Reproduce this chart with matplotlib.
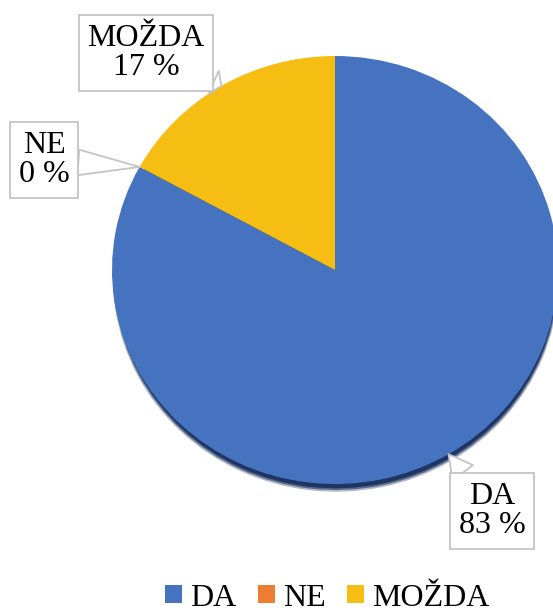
import matplotlib
matplotlib.use("Agg")
import numpy as np
import matplotlib.pyplot as plt

# data
CATEGORIES = ["DA", "NE", "MOŽDA"]
PERCENTS = [83, 0, 17]
COLORS = ["#4673C0", "#ED7D31", "#F6BD12"]

# callout box centres, figure pixels measured from the top
LABEL_POS = {"DA": (492, 511), "NE": (44, 160), "MOŽDA": (146, 53)}

W, H = 553, 613
CX, CY = 335, 270      # pie centre (px from top-left)
RX, RY = 223, 214      # pie radii (px)
FONT = "Liberation Serif"
FS = 23

plt.rcParams["font.family"] = [FONT, "DejaVu Serif"]

fig = plt.figure(figsize=(W / 100, H / 100), dpi=100)
ax = fig.add_axes([0, 0, 1, 1])

# soft dark shadow under the pie (a few layers to blur the edge)
for k, a in enumerate([0.35, 0.6, 1.0]):
    ax.pie(PERCENTS, colors=["#1E3461"] * len(PERCENTS), startangle=90,
           counterclock=False, center=(0.004, -0.036 + 0.004 * k),
           radius=1.0 - 0.004 * k, wedgeprops=dict(linewidth=0, alpha=a))
wedges, _ = ax.pie(PERCENTS, colors=COLORS, startangle=90, counterclock=False,
                   center=(0, 0), radius=1, wedgeprops=dict(linewidth=0))

ax.set_aspect("auto")
ax.set_xlim(-CX / RX, (W - CX) / RX)
ax.set_ylim((CY - H) / RY, CY / RY)
ax.axis("off")

for w, cat, pct in zip(wedges, CATEGORIES, PERCENTS):
    mid = np.radians((w.theta1 + w.theta2) / 2)
    tip = (np.cos(mid), np.sin(mid))
    px, py = LABEL_POS[cat]
    ax.annotate(f"{cat}\n{pct} %", xy=tip, xycoords="data",
                xytext=(px, H - py), textcoords="figure pixels",
                ha="center", va="center", fontsize=FS, family=FONT,
                linespacing=1.02, color="black",
                bbox=dict(boxstyle="square,pad=0.26", fc="white", ec="#C4C4C4", lw=1.3),
                arrowprops=dict(arrowstyle="wedge,tail_width=0.8,shrink_factor=0.5",
                                fc="white", ec="#C4C4C4", lw=1.3,
                                shrinkA=0, shrinkB=0))

fig.legend(wedges, CATEGORIES, loc="center", bbox_to_anchor=(0.592, 15 / H),
           ncol=3, frameon=False, handlelength=0.52, handleheight=0.52,
           handletextpad=0.26, columnspacing=0.68, borderpad=0.1,
           prop=dict(family=FONT, size=FS))

fig.savefig("out.png", dpi=100)
